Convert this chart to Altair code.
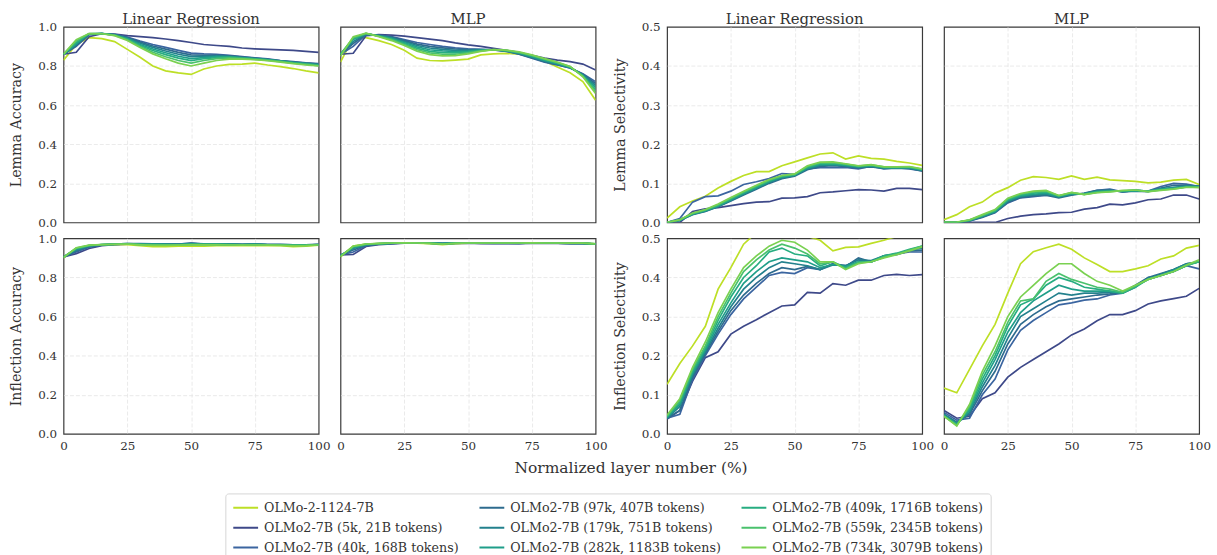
import altair as alt
import pandas as pd

# Normalized layer position (%) at which each probe value is read
layers = [0, 5, 10, 15, 20, 25, 30, 35, 40, 45, 50, 55, 60, 65, 70, 75, 80, 85, 90, 95, 100]

# Model checkpoints (plot order) and their colours
models = ["base", "5k", "40k", "97k", "179k", "282k", "409k", "559k", "734k"]
labels = {
    "base": "OLMo-2-1124-7B",
    "5k": "OLMo2-7B (5k, 21B tokens)",
    "40k": "OLMo2-7B (40k, 168B tokens)",
    "97k": "OLMo2-7B (97k, 407B tokens)",
    "179k": "OLMo2-7B (179k, 751B tokens)",
    "282k": "OLMo2-7B (282k, 1183B tokens)",
    "409k": "OLMo2-7B (409k, 1716B tokens)",
    "559k": "OLMo2-7B (559k, 2345B tokens)",
    "734k": "OLMo2-7B (734k, 3079B tokens)",
}
colors = {
    "base": "#bddf26", "5k": "#3e4989", "40k": "#3b65a0", "97k": "#2e6b8e",
    "179k": "#23818d", "282k": "#1f9e89", "409k": "#27ad81", "559k": "#4ac16d",
    "734k": "#7ad151",
}

# Lemma accuracy, linear regression probe
lemma_acc_lr = {
    "base": [0.83, 0.91, 0.945, 0.94, 0.925, 0.885, 0.845, 0.80, 0.775, 0.765, 0.757, 0.785, 0.80, 0.808, 0.81, 0.815, 0.805, 0.797, 0.787, 0.775, 0.765],
    "5k":   [0.86, 0.87, 0.95, 0.965, 0.963, 0.955, 0.95, 0.945, 0.938, 0.93, 0.92, 0.91, 0.905, 0.90, 0.892, 0.888, 0.885, 0.882, 0.88, 0.875, 0.87],
    "40k":  [0.86, 0.90, 0.96, 0.966, 0.962, 0.948, 0.928, 0.91, 0.895, 0.88, 0.866, 0.862, 0.86, 0.855, 0.848, 0.842, 0.836, 0.828, 0.822, 0.816, 0.812],
    "97k":  [0.86, 0.905, 0.962, 0.966, 0.96, 0.945, 0.922, 0.902, 0.886, 0.87, 0.857, 0.855, 0.855, 0.852, 0.845, 0.84, 0.834, 0.827, 0.82, 0.815, 0.81],
    "179k": [0.86, 0.91, 0.963, 0.966, 0.96, 0.942, 0.916, 0.895, 0.877, 0.86, 0.848, 0.85, 0.852, 0.85, 0.843, 0.838, 0.833, 0.826, 0.819, 0.814, 0.808],
    "282k": [0.86, 0.915, 0.964, 0.966, 0.959, 0.94, 0.91, 0.887, 0.868, 0.85, 0.838, 0.843, 0.848, 0.847, 0.842, 0.837, 0.832, 0.825, 0.818, 0.812, 0.806],
    "409k": [0.86, 0.92, 0.965, 0.966, 0.958, 0.937, 0.905, 0.879, 0.858, 0.84, 0.828, 0.837, 0.843, 0.845, 0.84, 0.836, 0.831, 0.824, 0.816, 0.81, 0.804],
    "559k": [0.86, 0.928, 0.966, 0.966, 0.957, 0.934, 0.90, 0.87, 0.847, 0.828, 0.815, 0.828, 0.838, 0.842, 0.838, 0.834, 0.829, 0.822, 0.814, 0.808, 0.802],
    "734k": [0.86, 0.935, 0.966, 0.965, 0.955, 0.93, 0.895, 0.862, 0.837, 0.815, 0.80, 0.815, 0.828, 0.835, 0.835, 0.832, 0.827, 0.82, 0.812, 0.805, 0.80],
}

# Lemma accuracy, MLP probe
lemma_acc_mlp = {
    "base": [0.82, 0.945, 0.945, 0.93, 0.91, 0.88, 0.84, 0.828, 0.826, 0.83, 0.835, 0.857, 0.862, 0.865, 0.86, 0.845, 0.825, 0.795, 0.765, 0.72, 0.625],
    "5k":   [0.86, 0.865, 0.955, 0.96, 0.958, 0.953, 0.945, 0.937, 0.93, 0.918, 0.908, 0.90, 0.89, 0.88, 0.868, 0.855, 0.84, 0.83, 0.822, 0.81, 0.78],
    "40k":  [0.86, 0.90, 0.96, 0.958, 0.95, 0.935, 0.92, 0.91, 0.90, 0.893, 0.888, 0.885, 0.882, 0.875, 0.86, 0.84, 0.82, 0.805, 0.79, 0.76, 0.72],
    "97k":  [0.86, 0.915, 0.962, 0.956, 0.948, 0.93, 0.912, 0.90, 0.893, 0.887, 0.884, 0.884, 0.882, 0.876, 0.862, 0.842, 0.822, 0.807, 0.79, 0.758, 0.71],
    "179k": [0.86, 0.925, 0.964, 0.955, 0.945, 0.925, 0.905, 0.892, 0.885, 0.88, 0.88, 0.883, 0.883, 0.877, 0.864, 0.845, 0.825, 0.81, 0.792, 0.755, 0.70],
    "282k": [0.86, 0.935, 0.965, 0.954, 0.942, 0.92, 0.898, 0.883, 0.877, 0.874, 0.876, 0.881, 0.883, 0.878, 0.866, 0.848, 0.828, 0.812, 0.793, 0.752, 0.69],
    "409k": [0.86, 0.94, 0.966, 0.953, 0.938, 0.915, 0.89, 0.875, 0.868, 0.867, 0.872, 0.879, 0.883, 0.879, 0.868, 0.851, 0.832, 0.815, 0.795, 0.75, 0.68],
    "559k": [0.86, 0.945, 0.967, 0.952, 0.935, 0.91, 0.883, 0.867, 0.86, 0.86, 0.867, 0.877, 0.884, 0.88, 0.87, 0.854, 0.835, 0.818, 0.797, 0.748, 0.67],
    "734k": [0.85, 0.95, 0.968, 0.95, 0.93, 0.905, 0.876, 0.858, 0.852, 0.853, 0.862, 0.875, 0.884, 0.881, 0.872, 0.857, 0.838, 0.82, 0.798, 0.745, 0.66],
}

# Inflection accuracy, linear regression probe
infl_acc_lr = {
    "base": [0.90, 0.945, 0.963, 0.967, 0.968, 0.968, 0.962, 0.958, 0.957, 0.96, 0.96, 0.96, 0.962, 0.962, 0.963, 0.963, 0.962, 0.962, 0.958, 0.96, 0.965],
    "5k":   [0.905, 0.922, 0.948, 0.962, 0.967, 0.97, 0.972, 0.971, 0.97, 0.968, 0.973, 0.97, 0.97, 0.969, 0.968, 0.968, 0.967, 0.967, 0.966, 0.966, 0.968],
    "40k":  [0.905, 0.93, 0.955, 0.965, 0.969, 0.972, 0.973, 0.972, 0.971, 0.97, 0.975, 0.971, 0.971, 0.97, 0.968, 0.97, 0.968, 0.968, 0.967, 0.967, 0.968],
    "97k":  [0.905, 0.935, 0.958, 0.966, 0.97, 0.973, 0.972, 0.972, 0.971, 0.97, 0.974, 0.972, 0.971, 0.97, 0.969, 0.97, 0.968, 0.968, 0.967, 0.967, 0.968],
    "179k": [0.905, 0.94, 0.96, 0.967, 0.97, 0.973, 0.971, 0.971, 0.97, 0.969, 0.973, 0.971, 0.971, 0.97, 0.968, 0.97, 0.968, 0.968, 0.967, 0.967, 0.968],
    "282k": [0.905, 0.945, 0.962, 0.968, 0.97, 0.972, 0.97, 0.97, 0.969, 0.968, 0.972, 0.97, 0.97, 0.969, 0.968, 0.969, 0.967, 0.967, 0.966, 0.966, 0.968],
    "409k": [0.905, 0.948, 0.963, 0.968, 0.97, 0.972, 0.969, 0.968, 0.967, 0.967, 0.97, 0.969, 0.969, 0.968, 0.967, 0.968, 0.967, 0.966, 0.965, 0.965, 0.967],
    "559k": [0.903, 0.95, 0.964, 0.968, 0.969, 0.971, 0.968, 0.966, 0.966, 0.966, 0.968, 0.968, 0.968, 0.967, 0.966, 0.967, 0.966, 0.965, 0.964, 0.964, 0.967],
    "734k": [0.902, 0.952, 0.965, 0.968, 0.969, 0.971, 0.967, 0.964, 0.964, 0.965, 0.967, 0.967, 0.967, 0.966, 0.965, 0.966, 0.965, 0.964, 0.962, 0.963, 0.966],
}

# Inflection accuracy, MLP probe
infl_acc_mlp = {
    "base": [0.905, 0.96, 0.97, 0.973, 0.975, 0.976, 0.975, 0.973, 0.968, 0.973, 0.975, 0.975, 0.975, 0.975, 0.976, 0.977, 0.975, 0.975, 0.975, 0.975, 0.972],
    "5k":   [0.915, 0.918, 0.958, 0.968, 0.972, 0.975, 0.975, 0.975, 0.972, 0.974, 0.975, 0.973, 0.973, 0.973, 0.973, 0.975, 0.974, 0.974, 0.973, 0.973, 0.97],
    "40k":  [0.915, 0.93, 0.962, 0.97, 0.973, 0.976, 0.976, 0.976, 0.974, 0.976, 0.977, 0.975, 0.974, 0.974, 0.974, 0.975, 0.975, 0.975, 0.974, 0.974, 0.971],
    "97k":  [0.915, 0.94, 0.965, 0.971, 0.974, 0.976, 0.976, 0.976, 0.974, 0.976, 0.977, 0.975, 0.975, 0.975, 0.974, 0.976, 0.975, 0.975, 0.974, 0.974, 0.971],
    "179k": [0.913, 0.948, 0.967, 0.972, 0.975, 0.977, 0.976, 0.976, 0.974, 0.976, 0.976, 0.975, 0.975, 0.975, 0.975, 0.976, 0.975, 0.975, 0.974, 0.974, 0.971],
    "282k": [0.912, 0.952, 0.968, 0.972, 0.975, 0.977, 0.976, 0.975, 0.973, 0.975, 0.976, 0.975, 0.975, 0.975, 0.975, 0.976, 0.976, 0.975, 0.975, 0.974, 0.971],
    "409k": [0.91, 0.956, 0.969, 0.973, 0.975, 0.977, 0.976, 0.975, 0.972, 0.975, 0.976, 0.975, 0.975, 0.975, 0.975, 0.977, 0.976, 0.975, 0.975, 0.975, 0.972],
    "559k": [0.908, 0.958, 0.97, 0.973, 0.975, 0.977, 0.976, 0.974, 0.971, 0.974, 0.976, 0.975, 0.976, 0.976, 0.976, 0.977, 0.976, 0.976, 0.975, 0.975, 0.972],
    "734k": [0.906, 0.96, 0.971, 0.974, 0.976, 0.977, 0.976, 0.974, 0.97, 0.974, 0.976, 0.976, 0.976, 0.976, 0.976, 0.977, 0.976, 0.976, 0.975, 0.975, 0.972],
}

# Lemma selectivity, linear regression probe
lemma_sel_lr = {
    "base": [0.011, 0.04, 0.055, 0.067, 0.088, 0.105, 0.12, 0.13, 0.13, 0.145, 0.155, 0.165, 0.175, 0.178, 0.162, 0.17, 0.164, 0.162, 0.156, 0.152, 0.146],
    "5k":   [0.0, 0.0, 0.028, 0.035, 0.038, 0.043, 0.048, 0.052, 0.053, 0.062, 0.063, 0.066, 0.076, 0.078, 0.081, 0.084, 0.083, 0.08, 0.087, 0.087, 0.084],
    "40k":  [0.0, 0.01, 0.052, 0.066, 0.068, 0.08, 0.097, 0.104, 0.112, 0.125, 0.123, 0.137, 0.14, 0.14, 0.141, 0.137, 0.144, 0.137, 0.14, 0.137, 0.132],
    "97k":  [0.0, 0.005, 0.02, 0.028, 0.04, 0.055, 0.07, 0.085, 0.10, 0.112, 0.118, 0.135, 0.143, 0.145, 0.143, 0.14, 0.142, 0.138, 0.139, 0.138, 0.132],
    "179k": [0.0, 0.005, 0.021, 0.029, 0.041, 0.056, 0.072, 0.087, 0.102, 0.114, 0.12, 0.137, 0.146, 0.147, 0.145, 0.141, 0.144, 0.139, 0.14, 0.139, 0.133],
    "282k": [0.0, 0.006, 0.021, 0.03, 0.042, 0.058, 0.074, 0.089, 0.104, 0.116, 0.121, 0.139, 0.148, 0.149, 0.146, 0.142, 0.145, 0.14, 0.141, 0.14, 0.134],
    "409k": [0.0, 0.006, 0.022, 0.031, 0.043, 0.06, 0.076, 0.091, 0.106, 0.117, 0.122, 0.141, 0.15, 0.151, 0.148, 0.143, 0.146, 0.141, 0.141, 0.141, 0.135],
    "559k": [0.0, 0.007, 0.023, 0.032, 0.045, 0.062, 0.078, 0.093, 0.108, 0.119, 0.123, 0.143, 0.152, 0.153, 0.149, 0.144, 0.147, 0.142, 0.142, 0.142, 0.136],
    "734k": [0.0, 0.007, 0.024, 0.033, 0.047, 0.064, 0.08, 0.095, 0.11, 0.12, 0.124, 0.145, 0.154, 0.155, 0.15, 0.145, 0.148, 0.142, 0.142, 0.143, 0.137],
}

# Lemma selectivity, MLP probe
lemma_sel_mlp = {
    "base": [0.007, 0.02, 0.04, 0.052, 0.075, 0.089, 0.108, 0.117, 0.115, 0.11, 0.119, 0.11, 0.116, 0.109, 0.107, 0.105, 0.101, 0.103, 0.108, 0.11, 0.097],
    "5k":   [0.0, 0.0, 0.0, 0.0, 0.0, 0.01, 0.016, 0.02, 0.022, 0.025, 0.026, 0.034, 0.038, 0.047, 0.045, 0.05, 0.058, 0.06, 0.07, 0.07, 0.06],
    "40k":  [0.0, 0.0, 0.004, 0.013, 0.025, 0.05, 0.063, 0.066, 0.07, 0.066, 0.072, 0.074, 0.082, 0.085, 0.078, 0.082, 0.08, 0.092, 0.10, 0.098, 0.092],
    "97k":  [0.0, 0.0, 0.004, 0.014, 0.026, 0.052, 0.064, 0.068, 0.07, 0.063, 0.07, 0.075, 0.082, 0.083, 0.078, 0.08, 0.079, 0.088, 0.095, 0.095, 0.093],
    "179k": [0.0, 0.0, 0.005, 0.015, 0.027, 0.054, 0.066, 0.07, 0.072, 0.065, 0.072, 0.074, 0.08, 0.082, 0.079, 0.081, 0.08, 0.086, 0.09, 0.093, 0.092],
    "282k": [0.0, 0.0, 0.005, 0.016, 0.028, 0.056, 0.068, 0.072, 0.075, 0.066, 0.073, 0.073, 0.079, 0.081, 0.08, 0.082, 0.08, 0.085, 0.088, 0.092, 0.091],
    "409k": [0.0, 0.0, 0.006, 0.017, 0.03, 0.058, 0.07, 0.075, 0.078, 0.068, 0.075, 0.072, 0.078, 0.08, 0.08, 0.082, 0.08, 0.084, 0.087, 0.091, 0.09],
    "559k": [0.0, 0.0, 0.006, 0.018, 0.031, 0.06, 0.072, 0.078, 0.08, 0.068, 0.076, 0.072, 0.077, 0.079, 0.081, 0.083, 0.079, 0.083, 0.086, 0.09, 0.09],
    "734k": [0.0, 0.001, 0.007, 0.02, 0.033, 0.062, 0.074, 0.08, 0.082, 0.069, 0.077, 0.071, 0.076, 0.078, 0.082, 0.083, 0.079, 0.082, 0.085, 0.09, 0.089],
}

# Inflection selectivity, linear regression probe
infl_sel_lr = {
    "base": [0.127, 0.18, 0.225, 0.275, 0.37, 0.425, 0.485, 0.515, 0.53, 0.535, 0.525, 0.505, 0.495, 0.468, 0.477, 0.478, 0.487, 0.495, 0.505, 0.51, 0.515],
    "5k":   [0.038, 0.06, 0.135, 0.195, 0.21, 0.255, 0.275, 0.292, 0.31, 0.327, 0.33, 0.362, 0.36, 0.384, 0.38, 0.393, 0.393, 0.405, 0.408, 0.405, 0.407],
    "40k":  [0.04, 0.05, 0.14, 0.20, 0.255, 0.305, 0.345, 0.375, 0.405, 0.413, 0.41, 0.425, 0.42, 0.435, 0.43, 0.445, 0.44, 0.455, 0.46, 0.465, 0.465],
    "97k":  [0.04, 0.06, 0.145, 0.205, 0.262, 0.315, 0.355, 0.385, 0.41, 0.425, 0.42, 0.428, 0.42, 0.435, 0.428, 0.45, 0.44, 0.455, 0.458, 0.468, 0.47],
    "179k": [0.04, 0.07, 0.15, 0.21, 0.27, 0.325, 0.37, 0.40, 0.425, 0.44, 0.435, 0.43, 0.42, 0.432, 0.43, 0.445, 0.443, 0.455, 0.46, 0.47, 0.475],
    "282k": [0.042, 0.075, 0.155, 0.215, 0.28, 0.335, 0.385, 0.415, 0.44, 0.45, 0.445, 0.44, 0.425, 0.433, 0.428, 0.44, 0.44, 0.452, 0.46, 0.47, 0.478],
    "409k": [0.045, 0.08, 0.16, 0.22, 0.29, 0.35, 0.40, 0.43, 0.465, 0.475, 0.46, 0.455, 0.43, 0.44, 0.425, 0.44, 0.44, 0.455, 0.462, 0.472, 0.48],
    "559k": [0.045, 0.085, 0.165, 0.225, 0.30, 0.36, 0.415, 0.445, 0.47, 0.485, 0.475, 0.46, 0.435, 0.44, 0.422, 0.438, 0.44, 0.452, 0.46, 0.47, 0.48],
    "734k": [0.048, 0.09, 0.17, 0.235, 0.31, 0.37, 0.425, 0.455, 0.48, 0.495, 0.49, 0.47, 0.44, 0.44, 0.42, 0.435, 0.44, 0.45, 0.458, 0.468, 0.478],
}

# Inflection selectivity, MLP probe
infl_sel_mlp = {
    "base": [0.117, 0.105, 0.165, 0.225, 0.28, 0.36, 0.435, 0.466, 0.476, 0.485, 0.472, 0.45, 0.433, 0.415, 0.415, 0.422, 0.43, 0.447, 0.455, 0.475, 0.482],
    "5k":   [0.06, 0.04, 0.045, 0.09, 0.105, 0.145, 0.17, 0.19, 0.21, 0.23, 0.253, 0.268, 0.289, 0.305, 0.305, 0.315, 0.332, 0.34, 0.346, 0.352, 0.372],
    "40k":  [0.055, 0.035, 0.04, 0.10, 0.14, 0.215, 0.265, 0.29, 0.31, 0.33, 0.335, 0.342, 0.345, 0.355, 0.36, 0.375, 0.40, 0.405, 0.415, 0.43, 0.422],
    "97k":  [0.05, 0.03, 0.05, 0.11, 0.16, 0.23, 0.28, 0.305, 0.325, 0.34, 0.345, 0.35, 0.355, 0.358, 0.362, 0.38, 0.40, 0.41, 0.42, 0.435, 0.44],
    "179k": [0.05, 0.028, 0.055, 0.12, 0.175, 0.245, 0.30, 0.32, 0.34, 0.36, 0.355, 0.36, 0.36, 0.362, 0.362, 0.378, 0.398, 0.408, 0.42, 0.435, 0.44],
    "282k": [0.048, 0.025, 0.06, 0.13, 0.19, 0.26, 0.31, 0.34, 0.36, 0.38, 0.37, 0.365, 0.365, 0.365, 0.36, 0.378, 0.395, 0.405, 0.418, 0.432, 0.44],
    "409k": [0.045, 0.025, 0.065, 0.14, 0.20, 0.275, 0.33, 0.345, 0.38, 0.40, 0.39, 0.375, 0.37, 0.365, 0.36, 0.375, 0.395, 0.405, 0.415, 0.43, 0.44],
    "559k": [0.045, 0.022, 0.07, 0.15, 0.21, 0.285, 0.34, 0.345, 0.39, 0.41, 0.395, 0.385, 0.375, 0.37, 0.362, 0.378, 0.395, 0.405, 0.415, 0.43, 0.442],
    "734k": [0.045, 0.02, 0.075, 0.16, 0.225, 0.30, 0.35, 0.38, 0.41, 0.435, 0.435, 0.41, 0.39, 0.38, 0.365, 0.38, 0.395, 0.405, 0.415, 0.432, 0.445],
}

FONT = "DejaVu Serif"
TEXT = "#333333"
W, H = 257, 197

# Legend fills its three columns top to bottom, in plotting order
legend_domain = [labels[k] for k in models]
legend_range = [colors[k] for k in models]


def to_frame(values):
    rows = []
    for key in models:
        for x, y in zip(layers, values[key]):
            rows.append({"layer": x, "value": y, "model": labels[key]})
    return pd.DataFrame(rows)


def hide_edges(hi):
    # grid lines on the frame edges would dash the panel border
    return {"condition": {"test": f"datum.value <= 0 || datum.value >= {hi} - 1e-9", "value": 0},
            "value": 1}


def panel(values, ymax, ystep, col_title=None, y_title=None, bottom=False):
    yvals = [round(i * ystep, 2) for i in range(int(round(ymax / ystep)) + 1)]
    x_axis = alt.Axis(values=[0, 25, 50, 75, 100], labels=bottom, title=None,
                      ticks=False, domain=False, grid=True, labelPadding=7,
                      labelFontSize=12, labelFlush=False, gridOpacity=hide_edges(100))
    if y_title:
        y_axis = alt.Axis(values=yvals, format=".1f", title=y_title, ticks=False,
                          domain=False, grid=True, labelPadding=7,
                          labelFontSize=12, titleFontSize=14.3, titlePadding=14,
                          gridOpacity=hide_edges(ymax))
    else:
        y_axis = alt.Axis(values=yvals, labels=False, title=None, ticks=False,
                          domain=False, grid=True, gridOpacity=hide_edges(ymax))
    chart = alt.Chart(to_frame(values)).mark_line(clip=True, strokeWidth=1.7).encode(
        x=alt.X("layer:Q", scale=alt.Scale(domain=[0, 100], nice=False), axis=x_axis),
        y=alt.Y("value:Q", scale=alt.Scale(domain=[0, ymax], nice=False), axis=y_axis),
        color=alt.Color(
            "model:N",
            scale=alt.Scale(domain=legend_domain, range=legend_range),
            legend=alt.Legend(
                title=None, orient="none", legendX=163, legendY=470, columns=3,
                symbolType="stroke", symbolSize=625, symbolStrokeWidth=2,
                clipHeight=15, labelFont=FONT, labelFontSize=12.75, labelColor=TEXT,
                labelOffset=5, labelLimit=400, columnPadding=19, rowPadding=5,
                padding=7, strokeColor="#d6d6d6", cornerRadius=3, fillColor="white",
            ),
        ),
    ).properties(width=W, height=H)
    if col_title:
        # panels with y labels reach higher, so their titles sit lower to line up
        chart = chart.properties(title=alt.TitleParams(
            col_title, font=FONT, fontSize=15, fontWeight="normal", color=TEXT,
            offset=-6 if y_title else 0, frame="group"))
    return chart


grid = alt.concat(
    panel(lemma_acc_lr, 1.0, 0.2, "Linear Regression", "Lemma Accuracy"),
    panel(lemma_acc_mlp, 1.0, 0.2, "MLP"),
    panel(lemma_sel_lr, 0.5, 0.1, "Linear Regression", "Lemma Selectivity"),
    panel(lemma_sel_mlp, 0.5, 0.1, "MLP"),
    panel(infl_acc_lr, 1.0, 0.2, y_title="Inflection Accuracy", bottom=True),
    panel(infl_acc_mlp, 1.0, 0.2, bottom=True),
    panel(infl_sel_lr, 0.5, 0.1, y_title="Inflection Selectivity", bottom=True),
    panel(infl_sel_mlp, 0.5, 0.1, bottom=True),
    columns=4, align="each", spacing={"row": 2, "column": 4},
).properties(title=alt.TitleParams(
    "Normalized layer number (%)", orient="bottom", anchor="middle", dx=21,
    font=FONT, fontSize=15.6, fontWeight="normal", color=TEXT, offset=9))

chart = alt.vconcat(grid).resolve_scale(color="shared").properties(
    padding={"left": 9, "top": 9, "right": 5, "bottom": 0}
).configure_view(
    stroke="#3a3a3a", strokeWidth=1.2
).configure_axis(
    labelFont=FONT, titleFont=FONT, labelColor=TEXT, titleColor=TEXT,
    titleFontWeight="normal", gridColor="#e4e4e4", gridDash=[4, 2], gridWidth=0.8,
)

chart.save("out.html", embed_options={"renderer": "svg", "actions": False})
